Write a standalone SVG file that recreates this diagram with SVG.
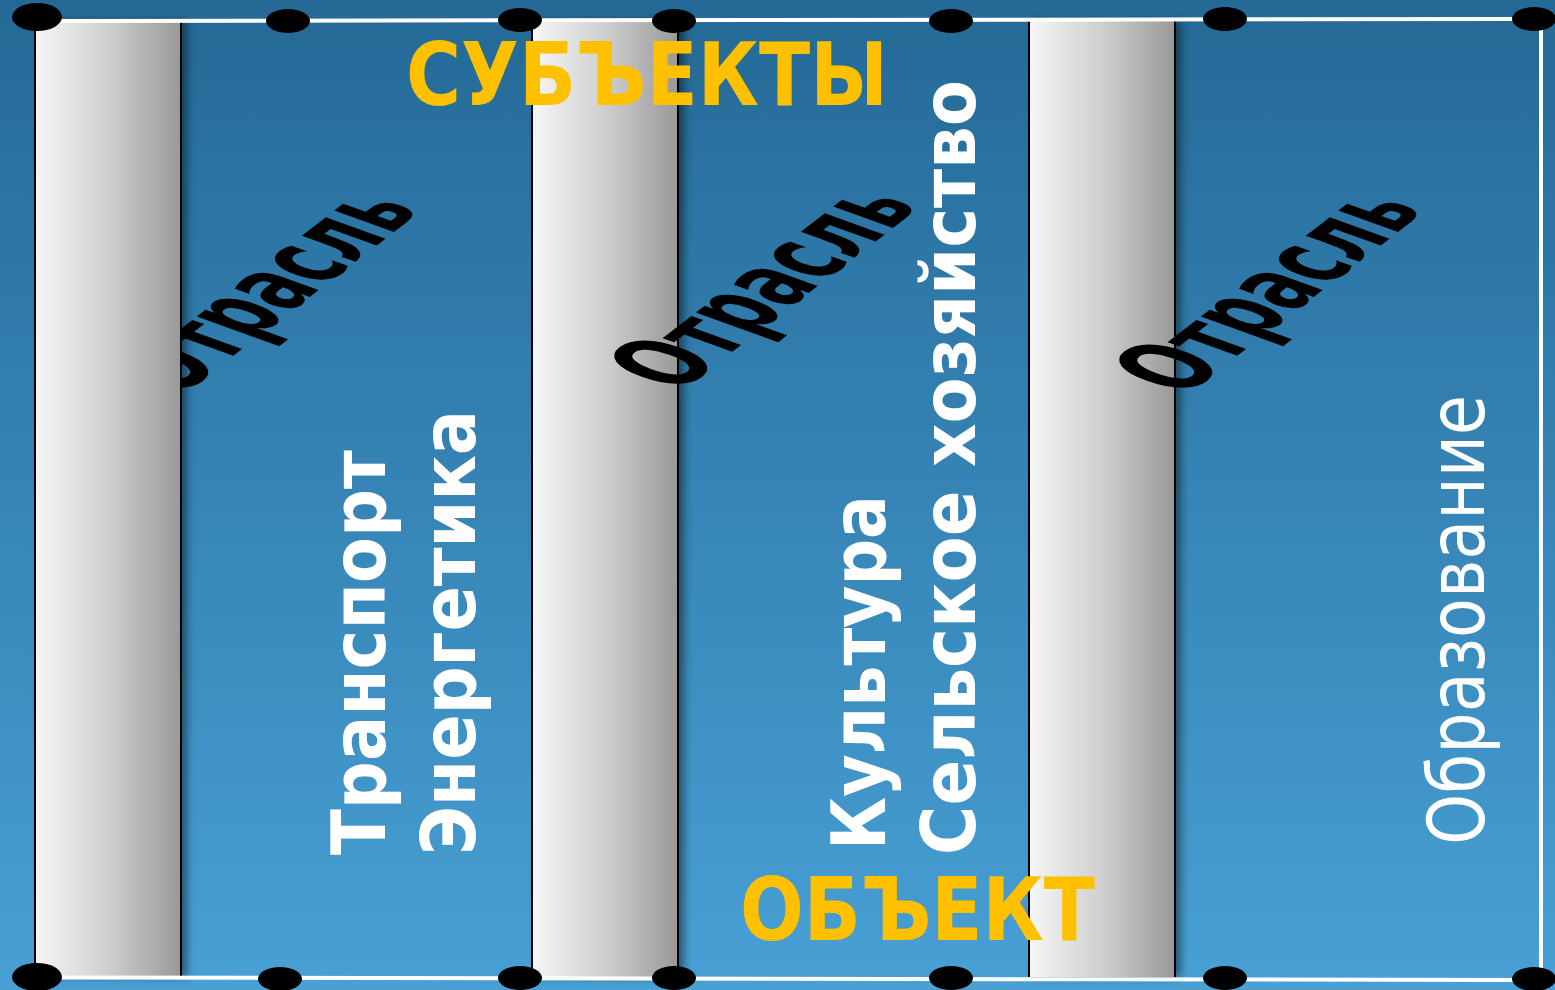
<svg xmlns="http://www.w3.org/2000/svg" width="1555" height="990" viewBox="0 0 1555 990">
<defs>
<linearGradient id="bg" x1="0" y1="0" x2="0" y2="1">
<stop offset="0" stop-color="#246996"/>
<stop offset="1" stop-color="#48a0d5"/>
</linearGradient>
<linearGradient id="bar" x1="0" y1="0" x2="1" y2="0">
<stop offset="0" stop-color="#f6f6f6"/>
<stop offset="0.5" stop-color="#cfcfcf"/>
<stop offset="1" stop-color="#999999"/>
</linearGradient>
<filter id="sh" x="-20%" y="-5%" width="140%" height="110%">
<feDropShadow dx="6" dy="0" stdDeviation="4" flood-color="#000" flood-opacity="0.45"/>
</filter>
<style>
.bar{fill:url(#bar);filter:url(#sh)}
.edge{stroke:#000;stroke-width:2;fill:none}
.wl{stroke:#fff;stroke-width:4;fill:none}
.dot{fill:#000}
.ttl{font-family:"DejaVu Sans","Liberation Sans",sans-serif;font-weight:bold;font-size:88px;fill:#FFC000}
.vb{font-family:"DejaVu Sans","Liberation Sans",sans-serif;font-weight:bold;font-size:74px;fill:#fff}
.vr{font-family:"DejaVu Sans","Liberation Sans",sans-serif;font-size:78px;fill:#fff}
.otr{font-family:"DejaVu Sans","Liberation Sans",sans-serif;font-weight:bold;font-size:66px;fill:#000}
</style>
</defs>
<rect id="background" x="0" y="0" width="1555" height="990" fill="url(#bg)"/>
<g id="label-otrasl-1"><text class="otr" transform="matrix(0.767,-0.591,1.655,0.595,180,397)">Отрасль</text></g>
<g id="bar-1"><rect class="bar" x="35" y="21" width="146" height="956"/><line class="edge" x1="35" y1="21" x2="35" y2="977"/><line class="edge" x1="181" y1="21" x2="181" y2="977"/></g>
<g id="bar-2"><rect class="bar" x="532" y="21" width="146" height="956"/><line class="edge" x1="532" y1="21" x2="532" y2="977"/><line class="edge" x1="678" y1="21" x2="678" y2="977"/></g>
<g id="bar-3"><rect class="bar" x="1029" y="21" width="146" height="956"/><line class="edge" x1="1029" y1="21" x2="1029" y2="977"/><line class="edge" x1="1175" y1="21" x2="1175" y2="977"/></g>
<g id="connectors">
<line class="wl" x1="37" y1="21" x2="1535" y2="19"/>
<line class="wl" x1="37" y1="977.5" x2="1535" y2="980"/>
<line class="wl" x1="1541" y1="19" x2="1541" y2="979"/>
</g>
<g id="dots-top">
<ellipse class="dot" cx="37" cy="17" rx="25" ry="14"/>
<ellipse class="dot" cx="288" cy="21" rx="22" ry="12"/>
<ellipse class="dot" cx="520" cy="20" rx="22" ry="12"/>
<ellipse class="dot" cx="674" cy="21" rx="22" ry="12"/>
<ellipse class="dot" cx="951" cy="21" rx="22" ry="12"/>
<ellipse class="dot" cx="1225" cy="19" rx="22" ry="12"/>
<ellipse class="dot" cx="1534" cy="19" rx="22" ry="12"/>
</g>
<g id="dots-bottom">
<ellipse class="dot" cx="37" cy="977" rx="25" ry="14"/>
<ellipse class="dot" cx="280" cy="979" rx="22" ry="12"/>
<ellipse class="dot" cx="520" cy="978" rx="22" ry="12"/>
<ellipse class="dot" cx="674" cy="978" rx="22" ry="12"/>
<ellipse class="dot" cx="951" cy="978" rx="22" ry="12"/>
<ellipse class="dot" cx="1225" cy="978" rx="22" ry="12"/>
<ellipse class="dot" cx="1534" cy="979" rx="22" ry="12"/>
</g>
<g id="label-otrasl-2"><text class="otr" transform="matrix(0.767,-0.591,1.655,0.595,679,393)">Отрасль</text></g>
<g id="label-otrasl-3"><text class="otr" transform="matrix(0.767,-0.591,1.655,0.595,1184,397)">Отрасль</text></g>
<g id="title-subjects"><text class="ttl" x="406" y="105" textLength="482" lengthAdjust="spacingAndGlyphs">СУБЪЕКТЫ</text></g>
<g id="title-object"><text class="ttl" x="740" y="940" textLength="355" lengthAdjust="spacingAndGlyphs">ОБЪЕКТ</text></g>
<g id="col-1">
<text class="vb" transform="translate(385,855) rotate(-90)" textLength="405" lengthAdjust="spacingAndGlyphs">Транспорт</text>
<text class="vb" transform="translate(475,855) rotate(-90)" textLength="445" lengthAdjust="spacingAndGlyphs">Энергетика</text>
</g>
<g id="col-2">
<text class="vb" transform="translate(885,850) rotate(-90)" textLength="355" lengthAdjust="spacingAndGlyphs">Культура</text>
<text class="vb" transform="translate(975,855) rotate(-90)" textLength="775" lengthAdjust="spacingAndGlyphs">Сельское хозяйство</text>
</g>
<g id="col-3">
<text class="vr" transform="translate(1484,845) rotate(-90)" textLength="450" lengthAdjust="spacingAndGlyphs">Образование</text>
</g>
</svg>
